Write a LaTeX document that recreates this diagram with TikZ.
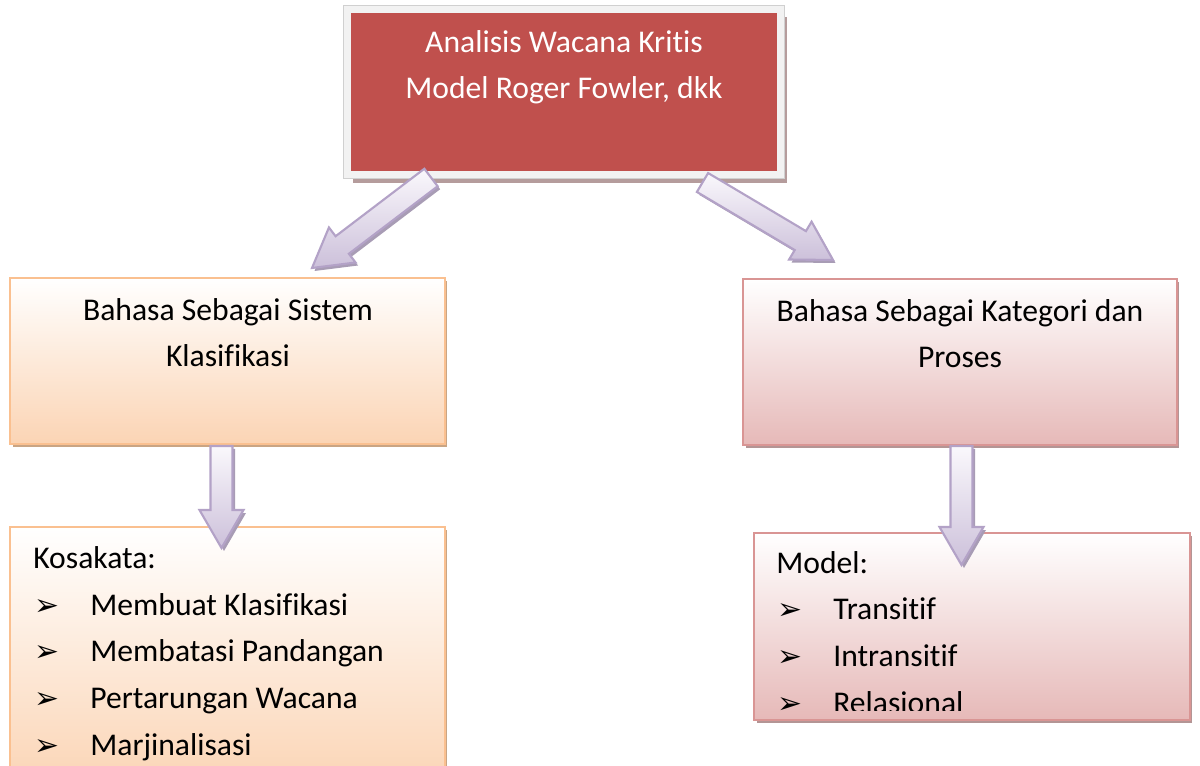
\documentclass[tikz,border=0pt]{standalone}
\usepackage{fontspec}
\setmainfont{Carlito}[Ligatures=NoCommon]
\newfontfamily\symfont{DejaVu Sans}
\usetikzlibrary{calc,shadows}

\definecolor{redbox}{HTML}{C0504D}
\definecolor{framegray}{HTML}{F2F2F2}
\definecolor{frameline}{HTML}{D0D0D0}
\definecolor{topshade}{HTML}{B59C9C}
\definecolor{orangeline}{HTML}{FAC090}
\definecolor{orangefill}{HTML}{FBD4B4}
\definecolor{orangeshade}{HTML}{C9A584}
\definecolor{pinkline}{HTML}{D99594}
\definecolor{pinkfill}{HTML}{E6B9B8}
\definecolor{pinkshade}{HTML}{B39595}
\definecolor{arrowline}{HTML}{B3A2C7}
\definecolor{arrowtop}{HTML}{FAF8FC}
\definecolor{arrowbot}{HTML}{CCC0DA}
\definecolor{arrowshade}{HTML}{A89CB5}

\newcommand{\bul}{{\symfont\fontsize{17}{17}\selectfont ➢}}
\newcommand{\listitem}[1]{\makebox[1.14cm][l]{\hspace{0.03cm}\bul}#1}

% block arrow from coordinate #1 (tail) to coordinate #2 (tip)
\newcommand{\blockarrow}[2]{%
  \coordinate (#1h) at ($(#2)!0.76cm!(#1)$);
  \foreach \lay/\dx/\dy in {shade/0.05/-0.06, body/0/0}{%
    \path[arrow\lay, transform canvas={shift={(\dx cm,\dy cm)}}]
      ($(#1)!0.22cm!90:(#2)$) -- ($(#1h)!0.22cm!90:(#2)$)
      -- ($(#1h)!0.44cm!90:(#2)$) -- (#2)
      -- ($(#1h)!0.44cm!-90:(#2)$) -- ($(#1h)!0.22cm!-90:(#2)$)
      -- ($(#1)!0.22cm!-90:(#2)$) -- cycle;
  }%
}

\begin{document}
\begin{tikzpicture}[x=0.02cm, y=-0.02cm,
    every node/.style={font=\fontsize{18}{26.5}\selectfont, inner sep=0pt},
    topbox/.style={fill=redbox, draw=frameline, line width=0.3pt,
      double=framegray, double distance=0.14cm,
      minimum width=8.68cm, minimum height=3.32cm,
      drop shadow={shadow xshift=0.12cm, shadow yshift=-0.16cm,
        fill=topshade, opacity=1}},
    sidebox/.style={line width=1.2pt, top color=white,
      drop shadow={shadow xshift=0.05cm, shadow yshift=-0.06cm,
        fill=#1, opacity=1}},
    leftbox/.style={sidebox=orangeshade, draw=orangeline, bottom color=orangefill},
    rightbox/.style={sidebox=pinkshade, draw=pinkline, bottom color=pinkfill},
    arrowshade/.style={fill=arrowshade},
    arrowbody/.style={draw=arrowline, line width=1.2pt, line join=miter,
      top color=arrowtop, bottom color=arrowbot}
  ]
  \path[use as bounding box, fill=white] (0,0) rectangle (1200,766);

  % boxes
  \node[topbox] (model) at (564,92) {};
  \node[leftbox, minimum width=8.7cm, minimum height=3.32cm] (sistem) at (227.5,361) {};
  \node[rightbox, minimum width=8.68cm, minimum height=3.32cm] (kategori) at (960,362) {};
  \node[leftbox, minimum width=8.7cm, minimum height=5.26cm] (kosakata) at (227.5,658.5) {};
  \node[rightbox, minimum width=8.72cm, minimum height=3.74cm] (proses) at (972,626.5) {};

  % texts (anchor base sits on the last line)
  \node[anchor=base, align=center, text=white] (modeltext) at (564,99)
    {Analisis Wacana Kritis\\Model Roger Fowler, dkk};
  \node[anchor=base, align=center] (sistemtext) at (228,367)
    {Bahasa Sebagai Sistem\\Klasifikasi};
  \node[anchor=base, align=center] (kategoritext) at (960,368)
    {Bahasa Sebagai Kategori dan\\Proses};
  \node[anchor=base west, align=left] (kosakatatext) at (33,755)
    {Kosakata:\\\listitem{Membuat Klasifikasi}\\\listitem{Membatasi Pandangan}\\
     \listitem{Pertarungan Wacana}\\\listitem{Marjinalisasi}};
  \begin{scope}
    \clip (754,533) rectangle (1190,710);
    \node[anchor=base west, align=left] (prosestext) at (776,713)
      {Model:\\\listitem{Transitif}\\\listitem{Intransitif}\\\listitem{Relasional}};
  \end{scope}

  % arrows
  \coordinate (la) at (431,177.5);
  \coordinate (lb) at (312,268);
  \coordinate (ra) at (702.5,182.5);
  \coordinate (rb) at (833,260);
  \coordinate (lc) at (221.5,446);
  \coordinate (ld) at (221.5,548);
  \coordinate (rc) at (961.5,446);
  \coordinate (rd) at (961.5,565);
  \blockarrow{la}{lb}
  \blockarrow{ra}{rb}
  \blockarrow{lc}{ld}
  \blockarrow{rc}{rd}
\end{tikzpicture}
\end{document}
